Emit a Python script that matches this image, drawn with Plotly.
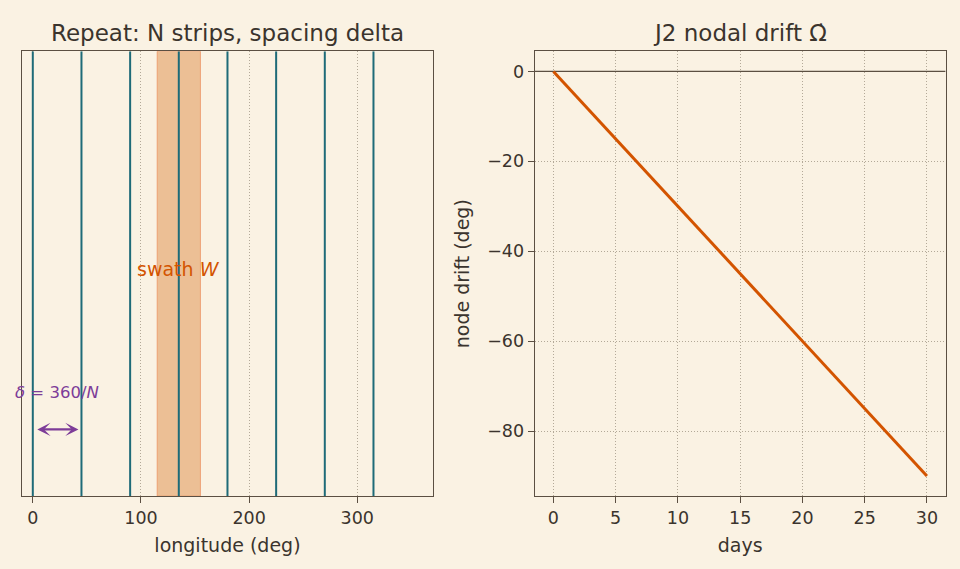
import plotly.graph_objects as go

# ---- data ----
track_lons = [0, 45, 90, 135, 180, 225, 270, 315]   # N = 8 strips, delta = 45 deg
swath_lo, swath_hi = 115, 155                         # swath W around 135 deg
delta_arrow = [0, 45]
days = [0, 5, 10, 15, 20, 25, 30]
drift = [0, -15, -30, -45, -60, -75, -90]
x_ticks_left = [0, 100, 200, 300]
x_ticks_right = [0, 5, 10, 15, 20, 25, 30]
y_ticks_right = [0, -20, -40, -60, -80]

BG = "#FAF2E3"
FRAME = "#5B4F42"
TEXT = "#3B342D"
TEAL = "#1E6B78"
ORANGE = "#D35400"
PURPLE = "#7D3C98"
GRID = "#B3A998"
FONT = "DejaVu Sans"

fig = go.Figure()

# swath band
fig.add_trace(go.Scatter(
    x=[swath_lo, swath_hi, swath_hi, swath_lo, swath_lo],
    y=[0, 0, 1, 1, 0], mode="lines", fill="toself",
    fillcolor="rgba(224,150,85,0.55)", line=dict(color="rgba(235,140,90,0.7)", width=1),
    xaxis="x", yaxis="y", hoverinfo="skip", showlegend=False))

# ground tracks
xs, ys = [], []
for lon in track_lons:
    xs += [lon, lon, None]
    ys += [0, 1, None]
fig.add_trace(go.Scatter(x=xs, y=ys, mode="lines", line=dict(color=TEAL, width=2),
                         xaxis="x", yaxis="y", showlegend=False))

# right panel: zero line and drift
fig.add_trace(go.Scatter(x=[-1.5, 31.5], y=[0, 0], mode="lines",
                         line=dict(color=FRAME, width=1.2), xaxis="x2", yaxis="y2",
                         showlegend=False))
fig.add_trace(go.Scatter(x=days, y=drift, mode="lines", line=dict(color=ORANGE, width=3),
                         xaxis="x2", yaxis="y2", showlegend=False))

axis_common = dict(showline=True, linecolor=FRAME, linewidth=1.3, mirror=True,
                   ticks="outside", ticklen=6, tickcolor=FRAME, tickwidth=1.3,
                   tickfont=dict(family=FONT, size=17.5, color=TEXT), zeroline=False,
                   gridcolor=GRID, griddash="1px,2px", gridwidth=1)

fig.update_layout(
    width=960, height=569, margin=dict(l=0, r=0, t=0, b=0),
    paper_bgcolor=BG, plot_bgcolor=BG,
    font=dict(family=FONT, color=TEXT),
    xaxis=dict(domain=[0.0229, 0.451], range=[-10, 370], tickvals=x_ticks_left,
               showgrid=True, anchor="y",
               title=dict(text="longitude (deg)", font=dict(size=19, color=TEXT), standoff=11),
               **axis_common),
    yaxis=dict(domain=[0.128, 0.910], range=[0, 1], showticklabels=False, ticks="",
               showgrid=False, anchor="x",
               **{k: v for k, v in axis_common.items() if k not in ("ticks",)}),
    xaxis2=dict(domain=[0.557, 0.985], range=[-1.5, 31.5], tickvals=x_ticks_right,
                showgrid=True, anchor="y2",
                title=dict(text="days", font=dict(size=19, color=TEXT), standoff=11),
                **axis_common),
    yaxis2=dict(domain=[0.128, 0.910], range=[-94.5, 4.5], tickvals=y_ticks_right,
                ticktext=["0", "\u221220", "\u221240", "\u221260", "\u221280"],
                showgrid=True, anchor="x2",
                title=dict(text="node drift (deg)", font=dict(size=19, color=TEXT), standoff=12),
                **axis_common),
)

# titles
fig.add_annotation(text="Repeat: N strips, spacing delta", xref="x domain", yref="paper",
                   x=0.5, y=1 - 33 / 569, yanchor="middle", showarrow=False,
                   font=dict(family=FONT, size=23, color=TEXT))
fig.add_annotation(text="J2 nodal drift \u03a9\u0307", xref="x2 domain", yref="paper",
                   x=0.5, y=1 - 33 / 569, yanchor="middle", showarrow=False,
                   font=dict(family=FONT, size=23, color=TEXT))

# swath label
fig.add_annotation(text="swath <i>W</i>", x=(swath_lo + swath_hi) / 2, y=0.51, xref="x", yref="y",
                   showarrow=False, font=dict(family=FONT, size=19, color=ORANGE))

# delta arrow
fig.add_annotation(x=delta_arrow[1], y=0.15, ax=delta_arrow[0], ay=0.15, xref="x", yref="y",
                   axref="x", ayref="y", text="", showarrow=True, arrowhead=3, arrowside="end+start",
                   arrowsize=1, arrowwidth=2.2, arrowcolor=PURPLE, standoff=3, startstandoff=3)
fig.add_annotation(text="<i>\u03b4</i> = 360/<i>N</i>", x=sum(delta_arrow) / 2, y=0.232,
                   xref="x", yref="y", showarrow=False,
                   font=dict(family=FONT, size=16.5, color=PURPLE))

fig.write_html("out.html")
